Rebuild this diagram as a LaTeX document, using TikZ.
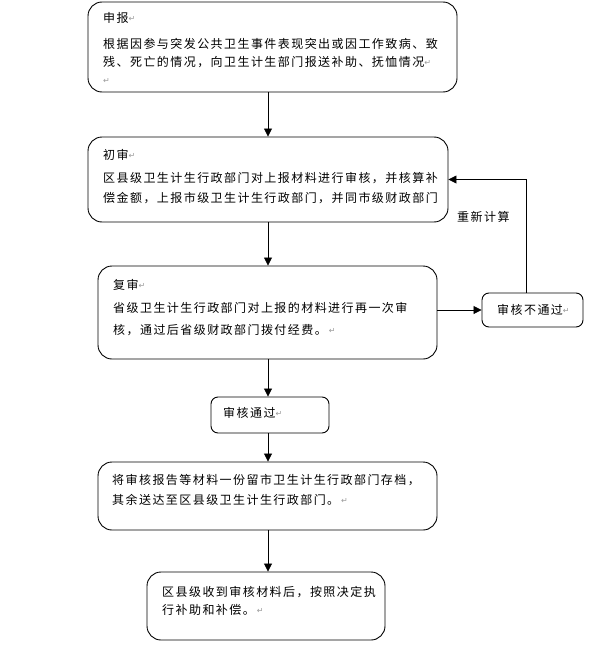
\documentclass[tikz,border=0pt]{standalone}
\usepackage{fontspec}
\setmainfont{Noto Sans CJK SC}[LetterSpace=12]
\newfontfamily\retfont{DejaVu Sans}
\usetikzlibrary{arrows.meta}
\newcommand\retmark{\raisebox{1pt}{\retfont\fontsize{8}{8}\selectfont\color{gray!80}↵}}
\tikzset{
  box/.style={draw, rounded corners=14pt, line width=0.9pt, inner sep=0pt},
  sbox/.style={draw, rounded corners=7pt, line width=0.9pt, inner sep=0pt},
  txt/.style={anchor=base west, inner sep=0pt, font=\fontsize{12}{14}\selectfont},
  arr/.style={line width=0.8pt, -{Triangle[length=8pt,width=8pt]}},
}
\begin{document}
\begin{tikzpicture}[x=1pt,y=-1pt]
\useasboundingbox (0,0) rectangle (594,661);
\coordinate (ax) at (268,0);
\coordinate (fx) at (526,0);
% boxes
\node[box, minimum width=369pt, minimum height=90pt] (b1) at (272.5,47) {};
\node[box, minimum width=360pt, minimum height=85pt] (b2) at (268,179.5) {};
\node[box, minimum width=339pt, minimum height=93pt] (b3) at (267.5,312.5) {};
\node[sbox, minimum width=101pt, minimum height=34pt] (nf) at (532.5,310) {};
\node[sbox, minimum width=118pt, minimum height=36pt] (ok) at (270,415) {};
\node[box, minimum width=339pt, minimum height=68pt] (b5) at (267.5,496) {};
\node[box, minimum width=238pt, minimum height=68pt] (b6) at (266,606) {};
% texts
\node[txt] (t1a) at (103,22.9) {申报\retmark};
\node[txt] (t1b) at (103,48.6) {根据因参与突发公共卫生事件表现突出或因工作致病、致};
\node[txt] (t1c) at (103,66.6) {残、死亡的情况，向卫生计生部门报送补助、抚恤情况\retmark};
\node[txt] (t1d) at (103,84.0) {\retmark};
\node[txt] (t2a) at (103,159.6) {初审\retmark};
\node[txt] (t2b) at (103,182.9) {区县级卫生计生行政部门对上报材料进行审核，并核算补};
\node[txt] (t2c) at (103,202.9) {偿金额，上报市级卫生计生行政部门，并同市级财政部门};
\node[txt] (t3a) at (113,289.6) {复审\retmark};
\node[txt] (t3b) at (113,312.9) {省级卫生计生行政部门对上报的材料进行再一次审};
\node[txt] (t3c) at (113,334.6) {核，通过后省级财政部门拨付经费。\,\retmark};
\node[txt] (tnf) at (497,314.6) {审核不通过\retmark};
\node[txt] (tok) at (223,417.6) {审核通过\retmark};
\node[txt] (t5a) at (112,484.6) {将审核报告等材料一份留市卫生计生行政部门存档，};
\node[txt] (t5b) at (112,504.6) {其余送达至区县级卫生计生行政部门。\,\retmark};
\node[txt] (t6a) at (162,596.3) {区县级收到审核材料后，按照决定执};
\node[txt] (t6b) at (162,614.6) {行补助和补偿。\,\retmark};
\node[txt] (tre) at (457,221.6) {重新计算};
% connectors
\draw[arr] (b1.south -| ax) -- (b2.north -| ax);
\draw[arr] (b2.south -| ax) -- (b3.north -| ax);
\draw[arr] (b3.south -| ax) -- (ok.north -| ax);
\draw[arr] (ok.south -| ax) -- (b5.north -| ax);
\draw[arr] (b5.south -| ax) -- (b6.north -| ax);
\draw[arr] (b3.east |- nf.west) -- (nf.west);
\draw[arr] (nf.north -| fx) |- (b2.east);
\end{tikzpicture}
\end{document}
